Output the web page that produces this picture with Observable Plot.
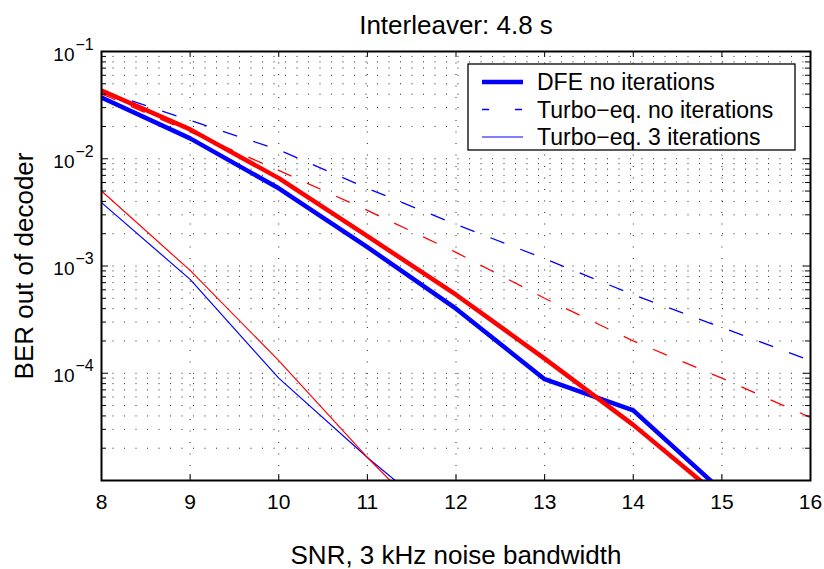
<!DOCTYPE html>
<html>
<head>
<meta charset="utf-8">
<script src="https://cdn.jsdelivr.net/npm/d3@7"></script>
<script src="https://cdn.jsdelivr.net/npm/@observablehq/plot@0.6"></script>
<style>
  html, body { margin: 0; padding: 0; background: #fff; }
  #chart { width: 824px; height: 569px; }
</style>
</head>
<body>
<div id="chart"></div>
<script>
// SNR axis (dB)
const snr = [8, 9, 10, 11, 12, 13, 14, 15, 16];

// BER out of decoder, blue set (shown in legend)
const dfeBlue   = [0.0372, 0.0155, 0.0053, 0.0015, 4.0e-4, 8.8e-5, 4.5e-5, 8.0e-6];
const turboBlue = [0.043, 0.0228, 0.0121, 0.0053, 0.00244, 0.00117, 5.4e-4, 2.67e-4, 1.31e-4];
const iterBlue  = [0.0039, 7.5e-4, 9.0e-5, 1.64e-5, 3.4e-6];

// BER out of decoder, red set
const dfeRed   = [0.0433, 0.0188, 0.0066, 0.0019, 5.4e-4, 1.37e-4, 3.3e-5, 6.8e-6];
const turboRed = [0.0403, 0.0178, 0.0078, 0.0033, 0.00134, 5.0e-4, 2.0e-4, 9.0e-5, 3.87e-5];
const iterRed  = [0.0050, 9.1e-4, 1.31e-4, 1.64e-5, 2.4e-6];

// Axis ticks
const xTicks = [8, 9, 10, 11, 12, 13, 14, 15, 16];
const yDomain = [1e-5, 1e-1];
const yLabelExps = [-1, -2, -3, -4];

// Legend entries
const legendLabels = ["DFE no iterations", "Turbo\u2212eq. no iterations", "Turbo\u2212eq. 3 iterations"];

const toRows = (values) => values.map((ber, i) => ({snr: snr[i], ber}));

const W = 824, H = 569;
const mL = 101, mR = 14, mT = 51, mB = 89;
const innerW = W - mL - mR, innerH = H - mT - mB;

const logTicks = d3.scaleLog().domain(yDomain).ticks();
const isDecade = (v) => Math.abs(Math.log10(v) - Math.round(Math.log10(v))) < 1e-6;
const yMajor = logTicks.filter(isDecade);
const yMinor = logTicks.filter(v => !isDecade(v));
const yGrid = logTicks.filter(v => v > yDomain[0] * 1.0001 && v < yDomain[1] * 0.9999);
const xGrid = xTicks.slice(1, -1);

const BLUE = "#0000ff", RED = "#ff0000";
const dot = {stroke: "#000", strokeWidth: 1, strokeDasharray: "1,10.5", strokeOpacity: 0.85};
const dash = "15,17";
const FONT = "'Liberation Sans', Arial, Helvetica, sans-serif";

const svg = Plot.plot({
  width: W, height: H,
  marginLeft: mL, marginRight: mR, marginTop: mT, marginBottom: mB,
  style: {fontFamily: FONT, color: "#000", background: "#fff"},
  x: {domain: [8, 16], axis: null},
  y: {type: "log", domain: yDomain, axis: null},
  marks: [
    // dotted grid
    Plot.ruleX(xGrid, {x: d => d, ...dot}),
    Plot.ruleY(yGrid, {y: d => d, ...dot}),

    // curves
    Plot.line(toRows(dfeBlue),   {x: "snr", y: "ber", stroke: BLUE, strokeWidth: 4.5, clip: true}),
    Plot.line(toRows(turboBlue), {x: "snr", y: "ber", stroke: BLUE, strokeWidth: 1.3, strokeDasharray: dash, strokeLinecap: "butt", clip: true}),
    Plot.line(toRows(iterBlue),  {x: "snr", y: "ber", stroke: BLUE, strokeWidth: 1.2, clip: true}),
    Plot.line(toRows(dfeRed),    {x: "snr", y: "ber", stroke: RED, strokeWidth: 4.5, clip: true}),
    Plot.line(toRows(turboRed),  {x: "snr", y: "ber", stroke: RED, strokeWidth: 1.3, strokeDasharray: dash, strokeLinecap: "butt", clip: true}),
    Plot.line(toRows(iterRed),   {x: "snr", y: "ber", stroke: RED, strokeWidth: 1.2, clip: true}),

    // axes box
    Plot.frame({stroke: "#000", strokeWidth: 2}),

    // inward ticks: bottom and top
    Plot.ruleX(xTicks, {x: d => d, insetTop: innerH - 6, stroke: "#000", strokeWidth: 1}),
    Plot.ruleX(xTicks, {x: d => d, insetBottom: innerH - 6, stroke: "#000", strokeWidth: 1}),
    // inward ticks: left and right (major and minor)
    Plot.ruleY(yMajor, {y: d => d, insetRight: innerW - 7, stroke: "#000", strokeWidth: 1}),
    Plot.ruleY(yMajor, {y: d => d, insetLeft: innerW - 7, stroke: "#000", strokeWidth: 1}),
    Plot.ruleY(yMinor, {y: d => d, insetRight: innerW - 5, stroke: "#000", strokeWidth: 1}),
    Plot.ruleY(yMinor, {y: d => d, insetLeft: innerW - 5, stroke: "#000", strokeWidth: 1}),

    // x tick labels
    Plot.text(xTicks, {x: d => d, frameAnchor: "bottom", lineAnchor: "middle", textAnchor: "middle", dy: 21.5, text: d => String(d), fontSize: 21, fill: "#000"}),

    // y tick labels as 10 with a raised exponent
    Plot.text(yLabelExps, {y: d => 10 ** d, frameAnchor: "left", lineAnchor: "middle", dx: -27, dy: 3, textAnchor: "end", text: () => "10", fontSize: 19, fill: "#000"}),
    Plot.text(yLabelExps, {y: d => 10 ** d, frameAnchor: "left", lineAnchor: "middle", dx: -26, dy: -7, textAnchor: "start", text: d => "\u2212" + Math.abs(d), fontSize: 16, fill: "#000"}),

    // title and axis labels
    Plot.text(["Interleaver: 4.8 s"], {frameAnchor: "top", lineAnchor: "middle", textAnchor: "middle", dy: -26, text: d => d, fontSize: 26, fill: "#000"}),
    Plot.text(["SNR, 3 kHz noise bandwidth"], {frameAnchor: "bottom", lineAnchor: "middle", textAnchor: "middle", dy: 75, text: d => d, fontSize: 26, fill: "#000"}),
    Plot.text(["BER out of decoder"], {frameAnchor: "left", lineAnchor: "middle", textAnchor: "middle", dx: -77, rotate: -90, text: d => d, fontSize: 26, fill: "#000"})
  ]
});

// Legend box in the upper right of the axes
const lg = d3.select(svg).append("g")
  .attr("font-family", FONT)
  .attr("text-anchor", "start");
lg.append("rect")
  .attr("x", 468).attr("y", 64).attr("width", 327).attr("height", 86)
  .attr("fill", "#fff").attr("stroke", "#000").attr("stroke-width", 1.3);
const legendStyles = [
  {width: 4.5, dash: null},
  {width: 1.3, dash: "7,26"},
  {width: 1.2, dash: null}
];
legendLabels.forEach((label, i) => {
  const cy = 82 + i * 27.5;
  const s = legendStyles[i];
  const ln = lg.append("line")
    .attr("x1", 482).attr("x2", 523).attr("y1", cy).attr("y2", cy)
    .attr("stroke", BLUE).attr("stroke-width", s.width);
  if (s.dash) ln.attr("stroke-dasharray", s.dash);
  lg.append("text")
    .attr("x", 537).attr("y", cy).attr("dy", "0.35em")
    .attr("text-anchor", "start")
    .attr("font-size", 23).attr("fill", "#000")
    .text(label);
});

document.getElementById("chart").appendChild(svg);
</script>
</body>
</html>
